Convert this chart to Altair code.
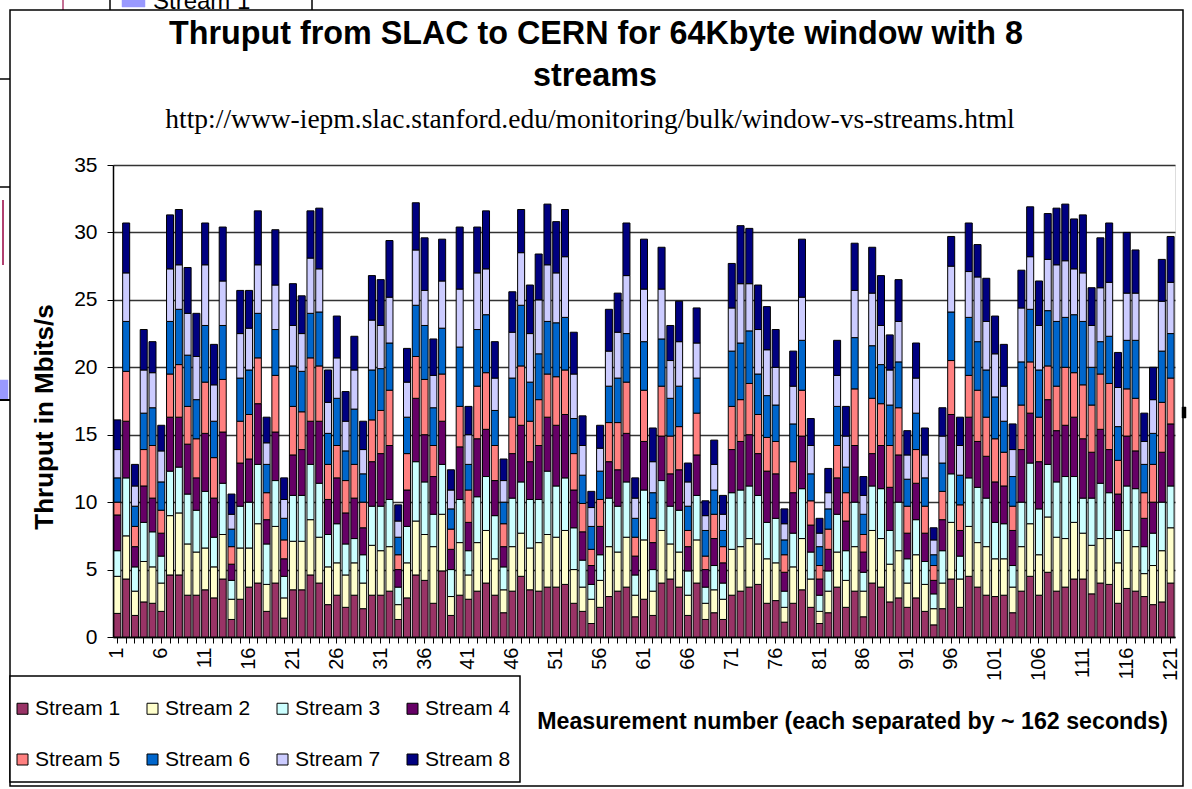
import altair as alt
import pandas as pd

streams = [f"Stream {i}" for i in range(1, 9)]
colors = ["#993366", "#FFFFCC", "#CCFFFF", "#660066", "#FF8080", "#0066CC", "#CCCCFF", "#000080"]
measurement = list(range(1, 122))
x_label_values = list(range(1, 122, 5))
y_ticks = [0, 5, 10, 15, 20, 25, 30, 35]

s1 = [1.75,4.3,1.6,2.6,2.5,1.9,4.6,4.6,3.1,3.1,
      3.5,2.9,4.3,1.3,2.8,3.7,4.0,1.9,4.0,1.4,
      3.5,3.5,4.6,4.0,2.4,3.1,2.2,3.1,2.1,3.1,
      3.1,3.4,1.3,2.9,4.6,4.2,2.5,4.9,1.6,3.1,
      2.8,3.4,4.0,3.1,1.8,3.4,4.5,3.5,3.4,3.7,
      3.7,3.9,2.5,1.9,1.0,2.2,3.0,3.4,3.7,1.5,
      2.8,1.6,4.0,4.3,3.7,1.6,4.0,1.3,1.8,1.3,
      3.1,3.4,3.7,3.9,2.5,2.7,1.1,2.5,3.5,2.2,
      1.0,1.8,3.7,2.2,3.4,1.5,4.0,3.7,2.6,2.9,
      2.2,2.9,1.9,0.9,2.1,4.3,2.2,4.5,3.7,3.1,
      3.0,3.1,1.8,3.4,4.5,3.1,4.8,3.4,3.7,4.3,
      4.3,3.2,4.0,3.9,2.5,3.6,3.4,3.0,2.4,2.6,
      4.0]
s2 = [2.75,3.2,1.8,3.0,2.7,2.1,4.4,4.6,3.8,3.2,
      3.1,2.3,3.3,1.5,3.8,2.9,4.4,2.0,4.2,1.5,
      3.6,3.6,4.1,3.4,2.8,2.4,2.4,2.4,1.9,3.7,
      3.3,3.3,1.1,2.6,4.0,3.4,4.2,4.2,1.4,3.9,
      1.8,3.6,3.9,2.7,1.7,3.3,3.2,3.1,3.6,3.9,
      3.7,4.0,2.5,1.8,1.8,2.0,3.7,2.9,3.7,1.6,
      4.4,1.8,3.9,2.6,2.6,1.5,3.2,1.2,1.7,1.5,
      3.4,3.3,3.6,3.0,3.3,2.8,1.1,2.7,3.8,2.1,
      0.9,1.6,2.6,2.0,3.3,1.9,3.9,3.6,2.8,3.5,
      1.8,3.2,2.0,1.2,1.9,4.2,2.1,3.7,3.3,3.6,
      2.8,2.7,1.9,3.3,3.9,3.0,4.1,4.0,3.6,4.2,
      3.4,3.6,3.3,3.4,3.0,4.3,3.3,1.7,2.9,3.8,
      4.1]
s3 = [1.9,4.3,1.8,2.9,2.6,2.0,3.3,3.4,3.7,3.1,
      4.2,2.2,3.8,1.4,3.1,3.4,4.4,3.0,3.4,1.6,
      3.4,3.4,4.1,4.0,2.4,2.9,2.3,1.8,2.1,2.9,
      3.3,3.5,1.3,2.7,4.4,3.9,2.4,3.7,2.0,3.2,
      1.8,3.4,4.0,3.2,1.7,3.6,3.8,3.6,3.2,4.7,
      3.8,3.9,3.1,2.0,1.1,1.9,3.6,3.4,4.1,1.5,
      3.7,1.6,3.7,2.8,3.1,1.8,3.3,1.2,1.8,1.2,
      4.2,4.2,3.9,3.6,2.7,3.3,1.2,2.5,3.7,2.0,
      1.2,1.5,2.8,2.2,3.3,1.4,3.3,3.7,2.5,3.6,
      1.8,2.6,1.7,1.1,2.4,3.6,1.7,3.6,4.1,3.6,
      2.7,2.6,1.6,3.3,4.5,3.4,3.9,4.1,4.6,3.4,
      2.6,3.5,4.1,3.4,2.4,3.3,4.3,2.0,2.4,3.6,
      3.1]
s4 = [2.65,4.2,1.5,2.7,2.5,1.7,4.0,3.7,3.7,2.4,
      4.3,2.9,3.8,1.2,3.2,3.2,4.5,1.8,3.6,1.3,
      3.0,3.4,3.2,4.6,2.6,3.4,2.3,3.0,2.0,3.3,
      3.9,4.0,1.3,2.7,4.7,3.5,2.8,3.2,1.5,3.9,
      2.1,4.3,3.5,2.6,1.5,3.3,4.2,2.8,4.0,4.0,
      4.5,4.7,2.8,2.1,1.4,2.1,2.7,2.7,3.6,1.4,
      3.6,2.0,3.3,2.4,3.0,1.8,3.0,1.3,2.0,1.5,
      3.2,3.6,3.8,3.1,3.8,3.3,1.4,3.0,3.9,2.0,
      1.2,1.6,2.7,2.2,4.2,1.5,2.4,3.2,3.2,3.5,
      1.9,2.7,2.1,1.0,2.3,4.4,1.9,4.5,3.4,3.1,
      3.0,2.8,2.6,3.9,3.7,3.5,4.8,3.8,3.8,4.4,
      4.4,3.4,4.0,3.2,2.7,3.7,2.8,2.1,2.3,3.7,
      4.6]
s5 = [0.95,3.7,1.5,2.7,3.9,1.7,3.2,3.9,2.8,2.9,
      3.8,3.0,3.9,1.3,3.1,3.3,3.4,2.0,4.2,1.4,
      3.6,2.8,4.7,4.1,2.6,2.4,2.4,2.5,1.9,3.1,
      3.2,4.1,1.1,2.7,3.1,4.1,2.3,3.5,1.5,3.0,
      2.4,3.9,4.2,2.6,1.7,2.7,4.4,3.0,3.4,3.2,
      3.6,3.3,2.7,2.1,1.2,2.0,2.9,3.5,3.8,1.4,
      3.8,1.8,3.7,2.8,3.2,1.2,3.1,1.0,1.8,1.2,
      3.2,3.1,3.8,2.9,2.5,2.4,1.3,2.3,3.4,1.8,
      1.0,1.5,2.4,2.1,4.2,1.3,4.1,3.1,3.1,3.5,
      2.0,2.5,2.0,1.1,2.1,4.0,1.9,3.1,3.8,2.9,
      3.2,2.5,1.8,3.3,3.8,3.3,2.5,3.3,4.3,3.3,
      4.0,3.5,4.1,4.9,2.5,3.5,3.9,1.9,2.8,3.7,
      3.4]
s6 = [1.8,3.7,1.5,2.7,2.8,2.1,3.9,4.1,3.8,2.9,
      4.2,2.7,4.0,1.3,3.2,3.3,3.3,2.1,3.4,1.6,
      3.0,3.0,3.3,4.0,2.3,3.5,2.2,4.1,2.1,3.7,
      3.1,3.5,1.3,2.7,3.8,4.0,2.8,3.4,1.5,4.4,
      1.9,4.2,4.3,2.6,1.6,2.9,4.5,2.9,3.4,3.9,
      4.0,3.9,2.6,2.1,1.7,2.1,2.7,3.3,3.6,1.4,
      3.6,1.9,3.5,2.8,3.0,1.8,2.6,1.9,1.8,1.2,
      4.1,4.2,3.9,3.0,3.1,2.7,1.1,2.8,3.7,2.0,
      1.4,1.5,2.9,1.9,3.8,1.5,3.9,2.9,3.0,3.4,
      2.0,2.7,2.1,0.8,2.1,3.6,2.2,4.3,3.6,3.5,
      3.1,2.3,2.2,3.2,3.9,3.5,4.1,4.8,3.7,4.3,
      4.7,2.8,2.4,3.5,2.5,3.6,4.3,2.1,2.3,3.8,
      3.3]
s7 = [2.1,3.6,1.5,3.2,2.6,2.3,3.9,3.3,3.1,3.2,
      4.5,2.7,3.3,1.1,3.3,3.1,3.6,1.6,3.3,1.4,
      3.0,2.8,4.1,3.2,2.3,3.0,2.2,2.9,1.8,3.7,
      3.2,3.4,1.2,2.6,4.1,2.6,2.4,3.5,1.4,4.3,
      2.2,4.2,3.4,2.4,1.6,3.4,3.9,3.6,4.0,4.2,
      3.7,4.5,3.3,2.2,1.4,1.7,2.6,3.4,4.3,1.5,
      3.9,2.3,3.7,2.8,3.3,1.8,2.6,1.1,1.9,1.2,
      3.2,4.4,3.5,3.3,3.4,2.8,1.2,2.8,3.2,2.1,
      1.0,1.2,2.3,2.3,3.5,1.4,3.9,2.9,2.6,3.0,
      1.8,2.6,1.7,1.1,2.0,3.4,2.2,3.4,4.8,3.6,
      3.2,2.6,2.0,4.0,3.9,3.3,3.8,4.2,4.2,3.4,
      3.6,3.1,4.0,4.0,2.9,3.5,3.5,1.7,2.5,3.7,
      3.8]
s8 = [2.2,3.7,1.6,3.0,2.3,1.9,4.0,4.1,3.4,3.2,
      3.1,3.0,4.0,1.5,3.2,2.8,4.0,1.9,4.1,1.6,
      3.1,2.8,3.5,4.5,2.4,3.1,2.2,2.5,2.1,3.3,
      3.4,4.2,1.2,2.5,3.5,3.9,2.7,3.1,1.5,4.6,
      2.1,3.4,4.3,2.7,1.6,3.0,3.2,3.6,3.4,4.5,
      3.8,3.5,3.1,2.2,1.2,1.7,3.1,2.9,3.9,1.5,
      3.7,2.5,3.1,2.6,3.0,1.4,2.6,1.1,1.8,1.4,
      3.3,4.3,4.1,3.3,3.2,2.8,1.1,2.6,4.3,2.0,
      1.1,1.8,2.6,2.2,3.5,1.4,3.4,3.7,2.6,3.1,
      1.8,2.6,2.0,0.9,2.1,2.2,2.1,3.6,2.4,3.2,
      2.8,3.1,1.9,2.8,3.7,3.3,3.4,4.2,4.2,3.7,
      4.3,2.8,3.7,4.4,2.6,4.5,3.2,2.1,2.4,3.1,
      3.4]

title_line1 = "Thruput from SLAC to CERN for 64Kbyte window with 8"
title_line2 = "streams"
subtitle = "http://www-iepm.slac.stanford.edu/monitoring/bulk/window-vs-streams.html"
y_title = "Thruput in Mbits/s"
x_title = "Measurement number (each separated by ~ 162 seconds)"
behind_label = "Stream 1"

series = [s1, s2, s3, s4, s5, s6, s7, s8]
rows = []
for k, (name, vals) in enumerate(zip(streams, series)):
    for n, v in zip(measurement, vals):
        rows.append({"n": n, "stream": name, "k": k + 1, "v": v})
df = pd.DataFrame(rows)

W, H = 1062, 472
SANS = "Liberation Sans"
SERIF = "Liberation Serif"

one = pd.DataFrame({"a": [0]})


def box(x, x2, y, y2, fill="white", stroke="black", sw=1.5, fo=1.0):
    return alt.Chart(one).mark_rect(fill=fill, fillOpacity=fo, stroke=stroke, strokeWidth=sw).encode(
        x=alt.value(x), x2=alt.value(x2), y=alt.value(y), y2=alt.value(y2)
    )


def line(x, x2, y, y2, color="black", sw=1.5):
    return alt.Chart(one).mark_rule(color=color, strokeWidth=sw).encode(
        x=alt.value(x), x2=alt.value(x2), y=alt.value(y), y2=alt.value(y2)
    )


def text_layer(txt, x, y, size, font=SANS, weight="normal", angle=0, align="center", baseline="alphabetic"):
    return alt.Chart(pd.DataFrame({"t": [txt]})).mark_text(
        font=font, fontSize=size, fontWeight=weight, angle=angle, align=align,
        baseline=baseline, color="black"
    ).encode(text="t:N", x=alt.value(x), y=alt.value(y))


# remnants of the chart lying behind (outside the frame), offsets from plot origin (113,165)
behind = [
    line(-50, -50, -170, -155, color="#b04070"),
    line(-3, -3, -170, -155),
    line(199, 199, -170, -155),
    box(9, 32, -170, -158, fill="#9999ff", stroke="#9999ff", sw=0.5),
    text_layer(behind_label, 40, -156, 24, align="left"),
    line(-113, -103, -86, -86),
    line(-113, -103, 22, 22),
    line(-110, -110, 35, 100, color="#b04070", sw=2),
    box(-113, -105, 215, 235, fill="#9999ff", stroke="#9999ff", sw=0.5),
    line(-113, -103, 235, 235, sw=2),
    box(1069, 1073, 242, 253, fill="black", stroke="black", sw=0.5),
]

frame = box(-103, 1070, -155, 621, fill="white", fo=0)
legend_box = box(-103, 407, 511, 617)

bars = alt.Chart(df).mark_bar(stroke="black", strokeWidth=1).encode(
    x=alt.X("n:O",
            scale=alt.Scale(paddingInner=0.2, paddingOuter=0.1),
            axis=alt.Axis(title=None, labelAngle=270,
                          labelExpr="(datum.value - 1) % 5 == 0 ? datum.label : ''",
                          labelOverlap=False, labelFont=SANS, labelFontSize=20,
                          labelColor="black", labelPadding=4, tickSize=6,
                          tickColor="black", domainColor="black", domainWidth=1.5)),
    y=alt.Y("v:Q", stack="zero",
            scale=alt.Scale(domain=[0, 35], nice=False),
            axis=alt.Axis(title=None, values=y_ticks, grid=True, gridColor="#333333",
                          gridWidth=1.5, labelFont=SANS, labelFontSize=21,
                          labelColor="black", labelPadding=10, tickSize=6,
                          tickColor="black", domainColor="black", domainWidth=1.5)),
    color=alt.Color("stream:N",
                    scale=alt.Scale(domain=streams, range=colors),
                    legend=alt.Legend(title=None, orient="none", legendX=-101, legendY=533,
                                      direction="horizontal", columns=4,
                                      symbolType="square", symbolSize=121,
                                      symbolStrokeColor="black", symbolStrokeWidth=1,
                                      symbolOpacity=1,
                                      labelFont=SANS, labelFontSize=21, labelColor="black",
                                      labelOffset=2, columnPadding=21, rowPadding=29,
                                      padding=0)),
    order=alt.Order("k:Q", sort="ascending"),
)

t1 = text_layer(title_line1, 483, -121, 32.3, weight="bold")
t2 = text_layer(title_line2, 482, -79, 32.3, weight="bold")
t3 = text_layer(subtitle, 477, -37, 27.5, font=SERIF)
ty = text_layer(y_title, -68, 252, 26, weight="bold", angle=270, baseline="middle")
tx = text_layer(x_title, 1055, 557, 23.2, weight="bold", align="right", baseline="middle")

chart = alt.layer(*behind, frame, legend_box, bars, t1, t2, t3, ty, tx).properties(
    width=W, height=H,
    padding={"left": 113, "top": 165, "right": 17, "bottom": 152},
    autosize=alt.AutoSizeParams(type="none"),
).configure_view(strokeWidth=0).configure(background="white")

chart.save("out.html", embed_options={"renderer": "svg", "actions": False})
